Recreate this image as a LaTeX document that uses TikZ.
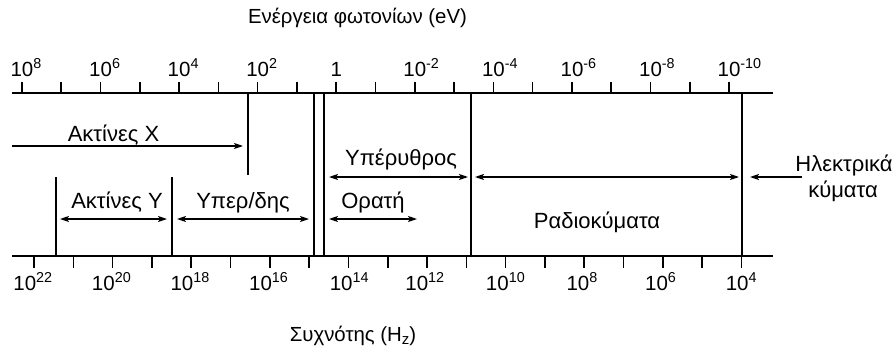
\documentclass[tikz,border=0pt]{standalone}
\usepackage{fontspec}
\setmainfont{Liberation Sans}
\usetikzlibrary{arrows.meta}
\newcommand\tpw[1]{10\rlap{\textsuperscript{#1}}}
\newcommand\btw[1]{10\textsuperscript{#1}}
\begin{document}
\begin{tikzpicture}[x=1pt,y=-1pt,
  font=\fontsize{22}{26}\selectfont,
  ln/.style={line width=1.6pt},
  tip/.tip={Stealth[length=9pt,width=6pt,inset=2pt]},
  arr/.style={line width=1.4pt,-tip},
  darr/.style={line width=1.4pt,tip-tip},
  lbl/.style={inner sep=0pt,anchor=base},
  axl/.style={lbl,font=\fontsize{20.5}{24}\selectfont},
]
\useasboundingbox (0,0) rectangle (896,351);
% axes
\coordinate (tl) at (12,93); \coordinate (tr) at (773,93);
\coordinate (bl) at (12,256); \coordinate (br) at (773,256);
\draw[ln] (tl) -- (tr);
\draw[ln] (bl) -- (br);
\foreach \i in {0,...,18} {
  \draw[ln] ({22+39.28*\i},93) -- ++(0,-11);
  \draw[ln] ({34+39.3*\i},256) -- ++(0,12);
}
% top labels
\node[axl] (t1) at (22,76) {\tpw{8}};
\node[axl] (t2) at (100.6,76) {\tpw{6}};
\node[axl] (t3) at (179.1,76) {\tpw{4}};
\node[axl] (t4) at (257.7,76) {\tpw{2}};
\node[axl] (t5) at (336.2,76) {1};
\node[axl] (t6) at (414.8,76) {\tpw{-2}};
\node[axl] (t7) at (493.4,76) {\tpw{-4}};
\node[axl] (t8) at (572,76) {\tpw{-6}};
\node[axl] (t9) at (650.5,76) {\tpw{-8}};
\node[axl] (t10) at (729,76) {\tpw{-10}};
% bottom labels
\node[axl] (b1) at (33,290) {\btw{22}};
\node[axl] (b2) at (111.6,290) {\btw{20}};
\node[axl] (b3) at (190.2,290) {\btw{18}};
\node[axl] (b4) at (268.8,290) {\btw{16}};
\node[axl] (b5) at (349.4,290) {\btw{14}};
\node[axl] (b6) at (425,290) {\btw{12}};
\node[axl] (b7) at (505.6,290) {\btw{10}};
\node[axl] (b8) at (582.2,290) {\btw{8}};
\node[axl] (b9) at (660.8,290) {\btw{6}};
\node[axl] (b10) at (741.4,290) {\btw{4}};
% titles
\node[lbl,font=\fontsize{20.4}{24}\selectfont] (title) at (357.5,23) {Ενέργεια φωτονίων (eV)};
\node[lbl,font=\fontsize{20.4}{24}\selectfont] (ftitle) at (353,341) {Συχνότης (H\raisebox{-0.35ex}{\fontsize{15}{15}\selectfont z})};
% boundary lines
\coordinate (xa) at (248,93); \coordinate (xb) at (248,175);
\coordinate (v1a) at (314,93); \coordinate (v1b) at (314,256);
\coordinate (v2a) at (324,93); \coordinate (v2b) at (324,256);
\coordinate (ira) at (471,93); \coordinate (irb) at (471,256);
\coordinate (ra) at (742,93); \coordinate (rb) at (742,256);
\coordinate (ga) at (56,177); \coordinate (gb) at (56,256);
\coordinate (ua) at (172,177); \coordinate (ub) at (172,256);
\foreach \a/\b in {xa/xb,v1a/v1b,v2a/v2b,ira/irb,ra/rb,ga/gb,ua/ub}
  \draw[ln] (\a) -- (\b);
% arrow ends
\coordinate (x1) at (12,146); \coordinate (x2) at (243,146);
\coordinate (g1) at (60,219); \coordinate (g2) at (167,219);
\coordinate (u1) at (177,219); \coordinate (u2) at (309,219);
\coordinate (o1) at (329,219); \coordinate (o2) at (417,219);
\coordinate (i1) at (329,177); \coordinate (i2) at (468,177);
\coordinate (r1) at (475,177); \coordinate (r2) at (739,177);
\coordinate (e1) at (802,177); \coordinate (e2) at (750,177);
\draw[arr] (x1) -- (x2);
\draw[darr] (g1) -- (g2);
\draw[darr] (u1) -- (u2);
\draw[darr] (o1) -- (o2);
\draw[darr] (i1) -- (i2);
\draw[darr] (r1) -- (r2);
\draw[arr] (e1) -- (e2);
% region labels
\node[lbl] (lx) at (113.5,141) {Ακτίνες Χ};
\node[lbl] (lg) at (117,208) {Ακτίνες Υ};
\node[lbl] (lu) at (243,208) {Υπερ/δης};
\node[lbl] (lo) at (373,208) {Ορατή};
\node[lbl] (li) at (401,165) {Υπέρυθρος};
\node[lbl] (lr) at (597,228) {Ραδιοκύματα};
\node[lbl] (le1) at (844,171) {Ηλεκτρικά};
\node[lbl] (le2) at (843,197) {κύματα};
\end{tikzpicture}
\end{document}
